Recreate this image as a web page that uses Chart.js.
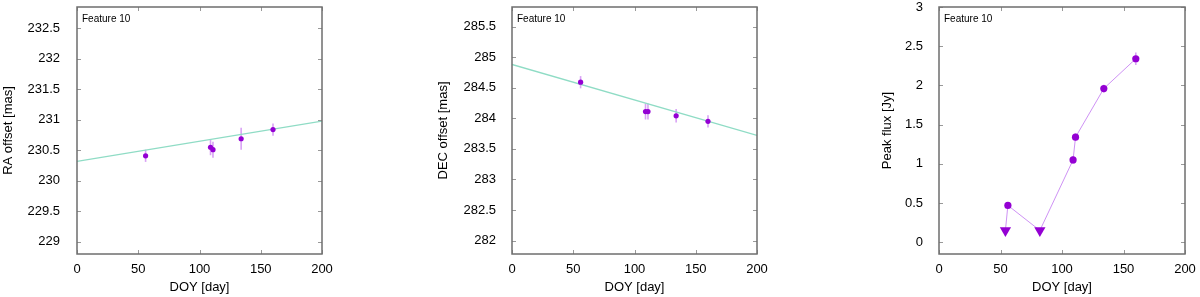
<!DOCTYPE html>
<html>
<head>
<meta charset="utf-8">
<script src="https://cdn.jsdelivr.net/npm/chart.js@4.4.1/dist/chart.umd.min.js"></script>
<style>
html, body { margin: 0; padding: 0; background: #fff; }
#wrap { position: relative; width: 1200px; height: 297px; overflow: hidden; }
#wrap canvas { position: absolute; top: 0; }
</style>
</head>
<body>
<div id="wrap">
  <canvas id="ra_chart" width="400" height="297" style="left:0px"></canvas>
  <canvas id="dec_chart" width="400" height="297" style="left:430px"></canvas>
  <canvas id="flux_chart" width="340" height="297" style="left:860px"></canvas>
</div>
<script>
// data
const doy = [56, 109, 111, 134, 160];
const raOffset = [230.41, 230.55, 230.51, 230.69, 230.84];
const raErr = [0.10, 0.13, 0.13, 0.18, 0.10];
const raFitX = [0, 200];
const raFitY = [230.32, 230.98];
const decOffset = [284.59, 284.11, 284.11, 284.04, 283.95];
const decErr = [0.10, 0.13, 0.13, 0.11, 0.10];
const decFitX = [0, 200];
const decFitY = [284.88, 283.72];
const peakFlux = [0.47, 1.05, 1.34, 1.96, 2.34];
const fluxErr = [0.04, 0.05, 0.05, 0.05, 0.08];
const limitDoy = [54, 82];
const limitFlux = [0.15, 0.15];

const xTicks = [0, 50, 100, 150, 200];
const raTicks = [229, 229.5, 230, 230.5, 231, 231.5, 232, 232.5];
const decTicks = [282, 282.5, 283, 283.5, 284, 284.5, 285, 285.5];
const fluxTicks = [0, 0.5, 1, 1.5, 2, 2.5, 3];

Chart.defaults.font.family = "'Liberation Sans', Arial, sans-serif";
Chart.defaults.color = "#000";

const violet = "#9400d3";
const pale = "rgba(180, 70, 235, 0.5)";
const fitColor = "#8fdcc5";

const pts = (xs, ys) => xs.map((x, i) => ({ x: x, y: ys[i] }));

// gnuplot-like frame, inward ticks, error bars and the "Feature 10" key
const boxPlugin = (vals, errs, label) => ({
  id: "box",
  beforeDatasetsDraw(chart) {
    const { ctx, scales } = chart;
    ctx.save();
    ctx.strokeStyle = pale;
    ctx.lineWidth = 1.6;
    for (let i = 0; i < doy.length; i++) {
      const x = scales.x.getPixelForValue(doy[i]);
      ctx.beginPath();
      ctx.moveTo(x, scales.y.getPixelForValue(vals[i] - errs[i]));
      ctx.lineTo(x, scales.y.getPixelForValue(vals[i] + errs[i]));
      ctx.stroke();
    }
    ctx.restore();
  },
  afterDraw(chart) {
    const { ctx, chartArea: a, scales } = chart;
    ctx.save();
    ctx.strokeStyle = "#999";
    ctx.lineWidth = 1;
    const len = 4;
    scales.y.ticks.forEach(t => {
      const y = Math.round(scales.y.getPixelForValue(t.value)) + 0.5;
      ctx.beginPath();
      ctx.moveTo(a.left, y); ctx.lineTo(a.left + len, y);
      ctx.moveTo(a.right, y); ctx.lineTo(a.right - len, y);
      ctx.stroke();
    });
    scales.x.ticks.forEach(t => {
      const x = Math.round(scales.x.getPixelForValue(t.value)) + 0.5;
      ctx.beginPath();
      ctx.moveTo(x, a.top); ctx.lineTo(x, a.top + len);
      ctx.moveTo(x, a.bottom); ctx.lineTo(x, a.bottom - len);
      ctx.stroke();
    });
    ctx.strokeStyle = "#6e6e6e";
    ctx.lineWidth = 1.5;
    ctx.strokeRect(a.left, a.top, a.right - a.left, a.bottom - a.top);
    ctx.fillStyle = "#000";
    ctx.font = "10px 'Liberation Sans', Arial, sans-serif";
    ctx.textBaseline = "middle";
    ctx.fillText(label, a.left + 5, a.top + 12);
    ctx.restore();
  }
});

const makeOptions = (o) => ({
  responsive: false,
  animation: false,
  layout: { padding: { left: 0, top: 7, right: o.padRight, bottom: 0 } },
  plugins: { legend: { display: false }, tooltip: { enabled: false } },
  scales: {
    x: {
      type: "linear",
      min: 0,
      max: 200,
      grid: { display: false },
      border: { display: false },
      ticks: { padding: 0, font: { size: 13 }, callback: v => String(v) },
      afterBuildTicks: s => { s.ticks = xTicks.map(v => ({ value: v })); },
      afterFit: s => { s.height = 43; s.paddingLeft = 0; s.paddingRight = 0; },
      title: { display: true, text: "DOY [day]", font: { size: 13 }, padding: { top: 0, bottom: 2 } }
    },
    y: {
      type: "linear",
      min: o.yMin,
      max: o.yMax,
      grid: { display: false },
      border: { display: false },
      ticks: { padding: o.tickPad, font: { size: 13 }, callback: v => String(v) },
      afterBuildTicks: s => { s.ticks = o.yTicks.map(v => ({ value: v })); },
      afterFit: s => { s.width = o.left; s.paddingTop = 0; s.paddingBottom = 0; },
      title: { display: true, text: o.yTitle, font: { size: 13 }, padding: { top: o.titlePad, bottom: 0 } }
    }
  }
});

new Chart(document.getElementById("ra_chart"), {
  type: "scatter",
  data: {
    datasets: [{
      data: pts(doy, raOffset),
      pointRadius: 2.6,
      pointBackgroundColor: violet,
      pointBorderWidth: 0
    }, {
      data: pts(raFitX, raFitY),
      showLine: true,
      pointRadius: 0,
      borderColor: fitColor,
      borderWidth: 1.3
    }]
  },
  options: makeOptions({ left: 77, padRight: 78, yMin: 228.8, yMax: 232.85, yTicks: raTicks, tickPad: 9, titlePad: 1, yTitle: "RA offset [mas]" }),
  plugins: [boxPlugin(raOffset, raErr, "Feature 10")]
});

new Chart(document.getElementById("dec_chart"), {
  type: "scatter",
  data: {
    datasets: [{
      data: pts(doy, decOffset),
      pointRadius: 2.6,
      pointBackgroundColor: violet,
      pointBorderWidth: 0
    }, {
      data: pts(decFitX, decFitY),
      showLine: true,
      pointRadius: 0,
      borderColor: fitColor,
      borderWidth: 1.3
    }]
  },
  options: makeOptions({ left: 82, padRight: 73, yMin: 281.78, yMax: 285.82, yTicks: decTicks, tickPad: 8, titlePad: 6, yTitle: "DEC offset [mas]" }),
  plugins: [boxPlugin(decOffset, decErr, "Feature 10")]
});

// the joining line runs through detections and upper limits in time order
const fluxPath = pts(doy, peakFlux).concat(pts(limitDoy, limitFlux)).sort((p, q) => p.x - q.x);

new Chart(document.getElementById("flux_chart"), {
  type: "scatter",
  data: {
    datasets: [{
      data: pts(doy, peakFlux),
      pointRadius: 3.6,
      pointBackgroundColor: violet,
      pointBorderWidth: 0
    }, {
      data: pts(limitDoy, limitFlux),
      pointStyle: "triangle",
      pointRotation: 180,
      pointRadius: 6.5,
      pointBackgroundColor: violet,
      pointBorderWidth: 0
    }, {
      data: fluxPath,
      showLine: true,
      pointRadius: 0,
      borderColor: "rgba(190, 110, 240, 0.75)",
      borderWidth: 1
    }]
  },
  options: makeOptions({ left: 79, padRight: 15, yMin: -0.15, yMax: 3, yTicks: fluxTicks, tickPad: 8, titlePad: 20, yTitle: "Peak flux [Jy]" }),
  plugins: [boxPlugin(peakFlux, fluxErr, "Feature 10")]
});
</script>
</body>
</html>
